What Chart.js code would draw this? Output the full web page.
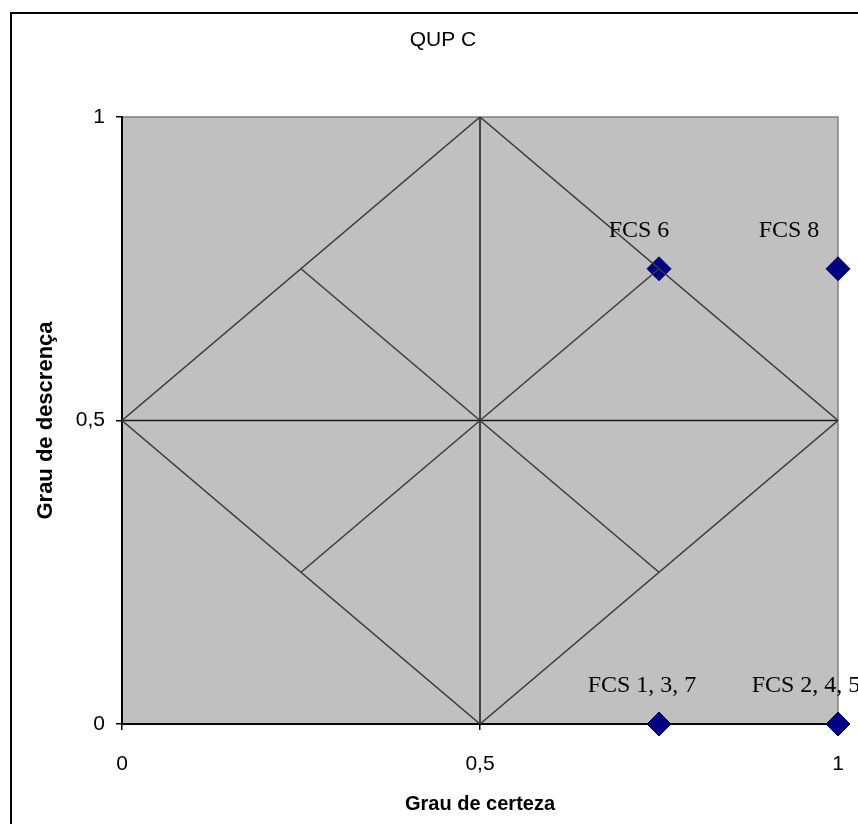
<!DOCTYPE html>
<html>
<head>
<meta charset="utf-8">
<script src="https://cdn.jsdelivr.net/npm/chart.js@4/dist/chart.umd.min.js"></script>
<style>
  html, body { margin: 0; padding: 0; background: #fff; }
  #wrap { width: 858px; height: 824px; }
</style>
</head>
<body>
<div id="wrap"><canvas id="chart" width="858" height="824"></canvas></div>
<script>
const chartTitle = "QUP C";
const xTitle = "Grau de certeza";
const yTitle = "Grau de descrença";
const tickValues = [0, 0.5, 1];
const tickLabels = ["0", "0,5", "1"];

// FCS points (certeza, descrença)
const fcsX = [0.75, 1, 0.75, 1];
const fcsY = [0.75, 0.75, 0, 0];
const fcsLabels = ["FCS 6", "FCS 8", "FCS 1, 3, 7", "FCS 2, 4, 5"];
const fcsLabelDx = [-20, -49, -17, -32];

// lattice lines of the QUPC diagram
const diamondX = [0, 0.5, 1, 0.5, 0];
const diamondY = [0.5, 1, 0.5, 0, 0.5];
const verticalX = [0.5, 0.5];
const verticalY = [0, 1];
const horizontalX = [0, 1];
const horizontalY = [0.5, 0.5];
const diagAX = [0.25, 0.75];
const diagAY = [0.75, 0.25];
const diagBX = [0.25, 0.75];
const diagBY = [0.25, 0.75];

const pts = (xs, ys) => xs.map((x, i) => ({ x, y: ys[i] }));

function lineSet(xs, ys, color) {
  return {
    type: "scatter",
    data: pts(xs, ys),
    showLine: true,
    borderColor: color,
    borderWidth: 1.5,
    pointRadius: 0,
    fill: false,
  };
}

const sansFont = "'Liberation Sans', Arial, sans-serif";

const decor = {
  id: "decor",
  beforeDraw(chart) {
    const { ctx, chartArea: a } = chart;
    ctx.save();
    ctx.fillStyle = "#c0c0c0";
    ctx.fillRect(a.left, a.top, a.right - a.left, a.bottom - a.top);
    ctx.strokeStyle = "#808080";
    ctx.lineWidth = 1.5;
    ctx.strokeRect(a.left, a.top, a.right - a.left, a.bottom - a.top);
    // outer chart frame
    ctx.strokeStyle = "#000";
    ctx.lineWidth = 2;
    ctx.strokeRect(11, 13, 1000, 1000);
    // title
    ctx.fillStyle = "#000";
    ctx.font = "21px " + sansFont;
    ctx.textAlign = "center";
    ctx.textBaseline = "middle";
    ctx.fillText(chartTitle, 443, 40);
    ctx.restore();
  },
  afterDatasetsDraw(chart) {
    const { ctx } = chart;
    const xs = chart.scales.x, ys = chart.scales.y;
    ctx.save();
    ctx.fillStyle = "#000";
    ctx.font = "24px 'Liberation Serif', 'Times New Roman', serif";
    ctx.textAlign = "center";
    ctx.textBaseline = "middle";
    fcsLabels.forEach((t, i) => {
      const px = xs.getPixelForValue(fcsX[i]);
      const py = ys.getPixelForValue(fcsY[i]);
      ctx.fillText(t, px + fcsLabelDx[i], py - 38);
    });
    ctx.restore();
  },
};

new Chart(document.getElementById("chart"), {
  type: "scatter",
  data: {
    datasets: [
      lineSet(diamondX, diamondY, "#3a3a3a"),
      lineSet(diagAX, diagAY, "#3a3a3a"),
      lineSet(diagBX, diagBY, "#3a3a3a"),
      lineSet(verticalX, verticalY, "#1a1a1a"),
      lineSet(horizontalX, horizontalY, "#1a1a1a"),
      {
        type: "scatter",
        data: pts(fcsX, fcsY),
        pointStyle: "rectRot",
        pointRadius: 12,
        pointHoverRadius: 12,
        backgroundColor: "#000080",
        borderColor: "#000080",
        borderWidth: 1,
        clip: false,
      },
    ],
  },
  options: {
    responsive: false,
    animation: false,
    events: [],
    layout: { padding: { left: 0, top: 117, right: 20, bottom: 0 } },
    plugins: {
      legend: { display: false },
      tooltip: { enabled: false },
      title: { display: false },
    },
    scales: {
      x: {
        type: "linear",
        min: 0,
        max: 1,
        afterFit: (s) => { s.height = 100; s.paddingLeft = 0; s.paddingRight = 0; },
        afterBuildTicks: (s) => { s.ticks = tickValues.map((v) => ({ value: v })); },
        ticks: {
          color: "#000",
          padding: 22,
          maxRotation: 0,
          font: { family: sansFont, size: 21 },
          callback: (v) => tickLabels[tickValues.indexOf(v)],
        },
        grid: { drawOnChartArea: false, drawTicks: true, tickLength: 6, color: "#000", lineWidth: 1.5 },
        border: { color: "#000", width: 2 },
        title: {
          display: true,
          text: xTitle,
          color: "#000",
          font: { family: sansFont, size: 20, weight: "bold" },
          padding: { top: 0, bottom: 8 },
        },
      },
      y: {
        type: "linear",
        min: 0,
        max: 1,
        afterFit: (s) => { s.width = 122; s.paddingTop = 0; s.paddingBottom = 0; },
        afterBuildTicks: (s) => { s.ticks = tickValues.map((v) => ({ value: v })); },
        ticks: {
          color: "#000",
          padding: 11,
          font: { family: sansFont, size: 21 },
          callback: (v) => tickLabels[tickValues.indexOf(v)],
        },
        grid: { drawOnChartArea: false, drawTicks: true, tickLength: 6, color: "#000", lineWidth: 1.5 },
        border: { color: "#000", width: 2 },
        title: {
          display: true,
          text: yTitle,
          color: "#000",
          font: { family: sansFont, size: 22, weight: "bold" },
          padding: { top: 33, bottom: 0 },
        },
      },
    },
  },
  plugins: [decor],
});
</script>
</body>
</html>
